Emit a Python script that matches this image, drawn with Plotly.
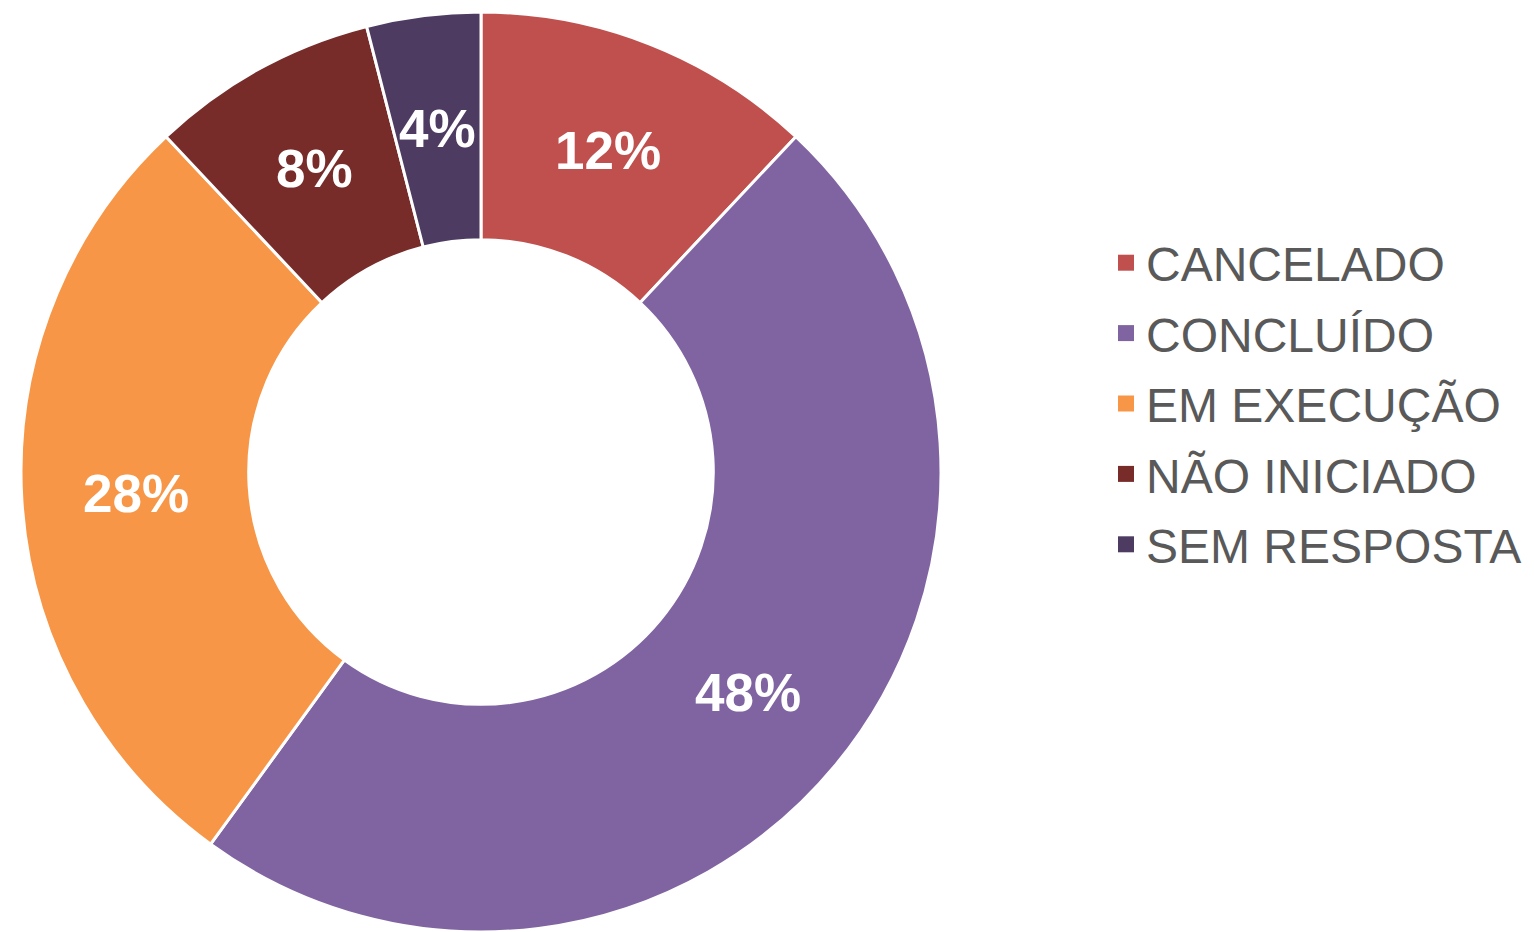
import math
import plotly.graph_objects as go

categories = ["CANCELADO", "CONCLUÍDO", "EM EXECUÇÃO", "NÃO INICIADO", "SEM RESPOSTA"]
values = [12, 48, 28, 8, 4]
colors = ["#C0504D", "#8064A2", "#F79646", "#772C2A", "#4D3B62"]

W, H = 1534, 932
OFF = 8  # page body margin
cx, cy, r = 481 - OFF, 472 - OFF, 460
HOLE = 0.505

fig = go.Figure()
fig.add_trace(go.Pie(
    labels=categories,
    values=values,
    hole=HOLE,
    sort=False,
    direction="clockwise",
    rotation=0,
    marker=dict(colors=colors, line=dict(color="white", width=3)),
    textinfo="none",
    domain=dict(x=[(cx - r) / W, (cx + r) / W], y=[1 - (cy + r) / H, 1 - (cy - r) / H]),
    showlegend=False,
))

# percentage labels at the radial middle of each slice (derived from values)
total = sum(values)
rmid = r * (1 + HOLE) / 2
cum = 0
for v in values:
    frac = (cum + v / 2) / total
    cum += v
    th = 2 * math.pi * frac
    px = cx + rmid * math.sin(th)
    py = cy - rmid * math.cos(th)
    fig.add_annotation(
        x=px / W, y=1 - py / H, xref="paper", yref="paper",
        text=f"{round(100 * v / total)}%", showarrow=False,
        xanchor="center", yanchor="middle",
        font=dict(family="Liberation Sans, Arial", size=53, color="white", weight="bold"),
    )

# legend entries (square swatches)
for i, (cat, col) in enumerate(zip(categories, colors)):
    fig.add_trace(go.Scatter(
        x=[None], y=[None], mode="markers", name=cat,
        marker=dict(symbol="square", size=20, color=col),
        legendgroup=f"g{i}", showlegend=True, hoverinfo="skip",
    ))

fig.update_layout(
    width=W, height=H,
    margin=dict(l=0, r=0, t=0, b=0),
    paper_bgcolor="white",
    plot_bgcolor="white",
    xaxis=dict(visible=False),
    yaxis=dict(visible=False),
    legend=dict(
        x=1098 / W, xanchor="left",
        y=1 - 395.5 / H, yanchor="middle",
        traceorder="grouped",
        tracegroupgap=5,
        itemsizing="trace",
        font=dict(family="Liberation Sans, Arial", size=48, color="#595959"),
        bgcolor="rgba(0,0,0,0)",
    ),
)

fig.write_html("out.html")
